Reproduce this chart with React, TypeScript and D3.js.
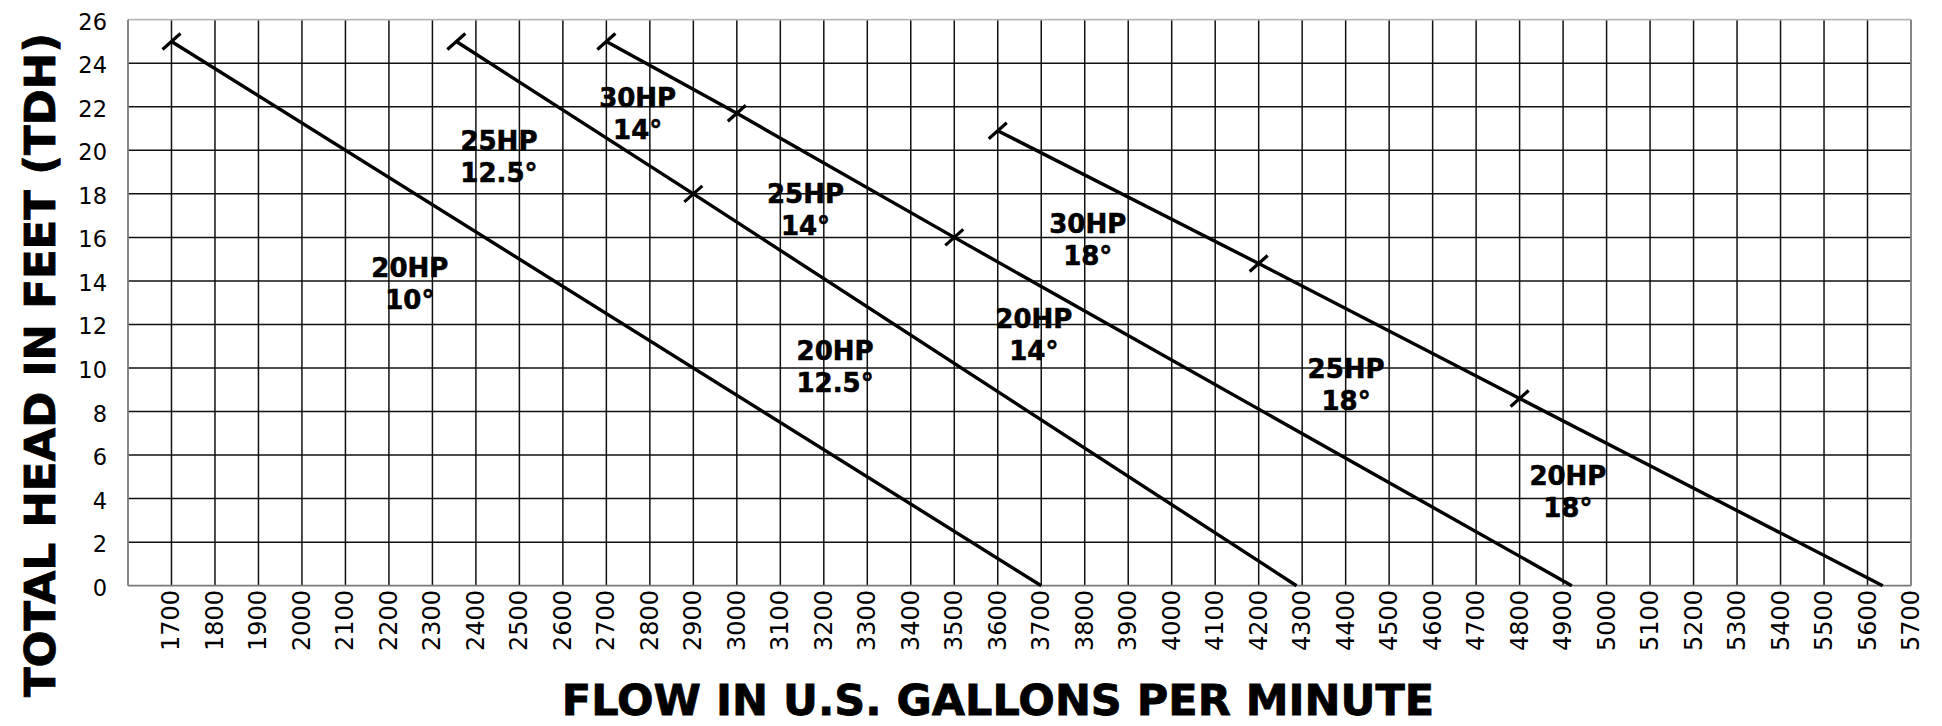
import React from "react";
import * as d3 from "d3";

// ---- data ----
const xTicks = [1700, 1800, 1900, 2000, 2100, 2200, 2300, 2400, 2500, 2600, 2700, 2800, 2900, 3000, 3100, 3200, 3300, 3400, 3500, 3600, 3700, 3800, 3900, 4000, 4100, 4200, 4300, 4400, 4500, 4600, 4700, 4800, 4900, 5000, 5100, 5200, 5300, 5400, 5500, 5600, 5700];
const yTicks = [0, 2, 4, 6, 8, 10, 12, 14, 16, 18, 20, 22, 24, 26];

// curve 1: 20HP 10°
const c1Flow = [1700, 3700];
const c1Head = [25, 0];
// curve 2: 25HP / 20HP 12.5°
const c2Flow = [2355, 2900, 4287];
const c2Head = [25, 18, 0];
// curve 3: 30HP / 25HP / 20HP 14°
const c3Flow = [2700, 3000, 3500, 4920];
const c3Head = [25, 21.7, 16, 0];
// curve 4: 30HP / 25HP / 20HP 18°
const c4Flow = [3600, 4200, 4800, 5635];
const c4Head = [20.9, 14.8, 8.6, 0];

const curveFlows = [c1Flow, c2Flow, c3Flow, c4Flow];
const curveHeads = [c1Head, c2Head, c3Head, c4Head];

// annotation labels (anchored in data space: flow, head)
const labelHP = ["20HP", "25HP", "30HP", "25HP", "30HP", "20HP", "20HP", "25HP", "20HP"];
const labelAngle = ["10°", "12.5°", "14°", "14°", "18°", "14°", "12.5°", "18°", "18°"];
const labelFlow = [2248, 2453, 2772, 3158, 3807, 3683, 3226, 4401, 4911];
const labelHead = [14.18, 20.0, 21.98, 17.59, 16.21, 11.84, 10.37, 9.54, 4.63];

const W = 1942;
const H = 726;
const FONT = "'DejaVu Sans', Verdana, sans-serif";

export default function App() {
  const x = d3.scaleLinear().domain([1600, 5700]).range([128, 1911]);
  const y = d3.scaleLinear().domain([0, 26]).range([585.7, 19.7]);

  const line = d3
    .line<[number, number]>()
    .x((d) => x(d[0]))
    .y((d) => y(d[1]));

  const vGrid = xTicks.filter((t) => t < 5700);
  const hGrid = yTicks.filter((t) => t > 0 && t < 26);

  return (
    <svg
      width={W}
      height={H}
      style={{ position: "absolute", left: 0, top: 0, background: "#fff" }}
      fontFamily={FONT}
    >
      <rect x={0} y={0} width={W} height={H} fill="#fff" />
      {/* grid */}
      {vGrid.map((t) => (
        <line key={"v" + t} x1={x(t)} x2={x(t)} y1={y(26)} y2={y(0)} stroke="#111" strokeWidth={1.5} />
      ))}
      {hGrid.map((t) => (
        <line key={"h" + t} x1={x(1600)} x2={x(5700)} y1={y(t)} y2={y(t)} stroke="#111" strokeWidth={1.5} />
      ))}
      {/* frame */}
      <line x1={x(1600)} x2={x(5700)} y1={y(26)} y2={y(26)} stroke="#b8b8b8" strokeWidth={1.8} />
      <line x1={x(1600)} x2={x(5700)} y1={y(0)} y2={y(0)} stroke="#7a7a7a" strokeWidth={1.8} />
      <line x1={x(1600)} x2={x(1600)} y1={y(26)} y2={y(0)} stroke="#7a7a7a" strokeWidth={1.8} />
      <line x1={x(5700)} x2={x(5700)} y1={y(26)} y2={y(0)} stroke="#7a7a7a" strokeWidth={1.8} />

      {/* curves */}
      {curveFlows.map((flows, i) => {
        const pts = flows.map((f, j) => [f, curveHeads[i][j]] as [number, number]);
        return (
          <g key={"c" + i}>
            <path d={line(pts) || ""} fill="none" stroke="#000" strokeWidth={3.4} />
            {pts.slice(0, -1).map((p, j) => (
              <line
                key={j}
                x1={x(p[0]) - 9}
                y1={y(p[1]) + 8}
                x2={x(p[0]) + 9}
                y2={y(p[1]) - 8}
                stroke="#000"
                strokeWidth={3.2}
              />
            ))}
          </g>
        );
      })}

      {/* labels */}
      {labelHP.map((hp, i) => (
        <g key={"l" + i} fontWeight="bold" fontSize={26} textAnchor="middle" fill="#000" stroke="#000" strokeWidth={0.6}>
          <text x={x(labelFlow[i])} y={y(labelHead[i])}>{hp}</text>
          <text x={x(labelFlow[i])} y={y(labelHead[i]) + 32}>{labelAngle[i]}</text>
        </g>
      ))}

      {/* y tick labels */}
      {yTicks.map((t) => (
        <text key={"yt" + t} x={107} y={y(t) + 2} textAnchor="end" dominantBaseline="central" fontSize={22.5} fill="#000">
          {t}
        </text>
      ))}

      {/* x tick labels */}
      {xTicks.map((t) => (
        <text
          key={"xt" + t}
          transform={`translate(${x(t)},${590}) rotate(-90)`}
          textAnchor="end"
          dominantBaseline="central"
          fontSize={24}
          fill="#000"
        >
          {t}
        </text>
      ))}

      {/* axis titles */}
      <text
        transform={`translate(55,${365}) rotate(-90)`}
        textAnchor="middle"
        fontWeight="bold"
        fontSize={43.5}
        fill="#000"
        stroke="#000"
        strokeWidth={0.8}
      >
        TOTAL HEAD IN FEET (TDH)
      </text>
      <text x={998} y={715} textAnchor="middle" fontWeight="bold" fontSize={43} fill="#000" stroke="#000" strokeWidth={0.8}>
        FLOW IN U.S. GALLONS PER MINUTE
      </text>
    </svg>
  );
}
